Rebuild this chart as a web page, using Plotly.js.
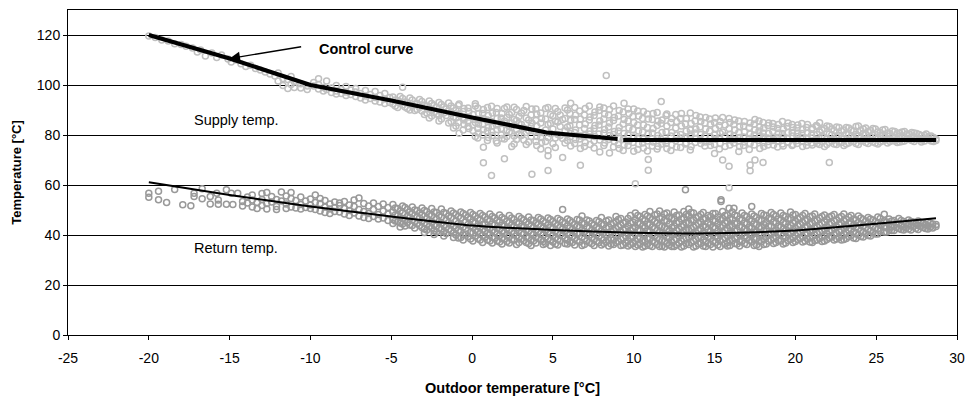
<!DOCTYPE html>
<html>
<head>
<meta charset="utf-8">
<script src="https://cdn.plot.ly/plotly-3.0.1.min.js"></script>
<style>
html,body{margin:0;padding:0;background:#fff;}
#chart{width:972px;height:397px;}
</style>
</head>
<body>
<div id="chart"></div>
<script>
// Supply temperature measurements: [outdoor temp, [supply temps...]]
const supplyPoints = [
[-20.0,[119.6]],[-19.6,[119.0]],[-19.2,[118.0]],[-18.8,[117.6]],[-18.4,[116.5]],[-18.0,[116.2]],
[-17.7,[115.5]],[-17.3,[114.8]],[-17.0,[113.2]],[-16.8,[114.0]],[-16.5,[111.6]],[-16.1,[112.8]],
[-15.8,[111.0]],[-15.5,[112.0]],[-15.1,[110.4]],[-14.9,[109.2]],[-14.6,[110.0]],[-14.3,[108.5]],
[-14.0,[107.4]],[-13.7,[107.9]],[-13.4,[106.6]],[-13.1,[106.0]],[-12.8,[105.2]],[-12.5,[104.4]],
[-12.2,[103.6]],[-12.0,[104.8,101.6]],[-11.7,[102.6,99.8]],[-11.4,[102.2,98.6]],[-11.2,[103.4,100.2]],
[-11.0,[101.4,99.0]],[-10.6,[100.5,98.8]],[-10.2,[99.6,98.2]],
[-9.8,[99.6,101.0]],[-9.5,[100.2,98.4,102.5]],[-9.2,[99.0,97.6]],[-9.0,[101.6,98.2]],[-8.7,[98.8,97.0]],
[-8.4,[99.8,97.6,96.4]],[-8.1,[98.2,96.6]],[-7.8,[99.4,97.2,95.8]],[-7.5,[98.0,96.2]],[-7.2,[97.2,95.4,98.6]],
[-6.9,[96.6,94.8]],[-6.6,[97.8,95.6,94.0]],[-6.3,[96.2,94.6]],[-6.0,[97.4,95.0,93.6]],[-5.7,[95.8,93.2]],
[-5.4,[96.6,94.4,92.6]],[-5.1,[95.0,93.0]],
[-4.9,[95.2,92.4]],[-4.75,[94.0,91.6]],[-4.6,[93.8,91.0]],[-4.45,[95.4,92.8]],[-4.3,[94.6,92.0,99.1]],
[-4.15,[93.2,91.2]],[-4.0,[93.0,90.6]],[-3.85,[94.8,90.0]],[-3.7,[94.0,91.8]],[-3.55,[92.4,89.8]],
[-3.4,[92.6,90.2]],[-3.25,[94.2,91.0]],[-3.1,[93.4,89.6]],[-2.95,[92.0,88.2]],[-2.8,[91.4,88.8]],
[-2.65,[93.6,90.4,86.8]],[-2.5,[92.6,90.0,87.6]],[-2.35,[91.8,89.0]],[-2.2,[91.0,88.4]],[-2.05,[93.0,87.8,85.6]],
[-1.9,[92.2,89.2,86.4]],[-1.75,[91.2,88.8]],[-1.6,[90.4,87.8]],[-1.45,[92.8,89.6,84.8]],[-1.3,[91.6,88.6,85.4]],
[-1.15,[90.8,87.2,82.8]],[-1.0,[89.8,86.8,83.6]],[-0.85,[91.8,88.4,85.0]],[-0.8,[92.4,80.7,88.2]],
[-0.55,[89.4,87.0,82.0]],[-0.5,[90.6,86.0,84.2]],[-0.25,[90.8,85.6,83.4]],[-0.2,[89.4,87.2,82.6]],
[0.05,[88.2,84.0,81.8]],[0.2,[79.4,91.6,85.0,92.5]],[0.35,[90.8,86.2,82.6,78.8]],
[0.4,[88.6,84.4,80.8]],[0.65,[88.6,84.2,80.0]],[0.7,[90.2,86.6,82.2,75.1,68.9]],[0.95,[91.0,86.0,81.6,77.8]],
[1.0,[87.8,83.0,79.0]],[1.2,[91.5,85.4,81.4,63.8]],[1.25,[88.8,83.6,79.8]],
[1.5,[89.0,84.0,77.6]],[1.55,[90.6,86.6,82.2,76.8]],[1.8,[86.8,82.6,80.0]],[1.85,[88.6,84.6,78.6]],
[2.0,[90.6,85.6,78.4,70.5]],[2.15,[91.2,87.0,82.0,79.4]],[2.3,[88.2,83.4,81.2]],[2.45,[89.0,84.8,80.8,75.4]],
[2.6,[91.1,86.2,79.6,76.4]],[2.75,[90.2,85.8,82.2,78.2]],[2.9,[87.4,84.6,80.4]],[3.05,[88.8,84.2,79.8]],
[3.2,[89.8,82.8,78.0]],[3.35,[91.4,86.8,81.0,76.2]],[3.5,[86.0,81.8,77.2]],[3.65,[88.0,83.4,79.4]],
[3.7,[90.4,84.8,64.3]],[3.95,[90.4,85.8,81.2,77.4]],[4.0,[88.4,83.6,79.4,75.8]],[4.25,[88.8,84.8,79.0,74.4]],
[4.3,[86.6,81.0,77.0]],[4.55,[90.6,86.4,82.0,77.4]],[4.7,[91.0,84.2,79.0,73.8,71.7,65.8]],[4.85,[88.2,84.6,80.6]],
[5.0,[87.6,82.4,76.6]],[5.15,[90.6,85.6,78.8,75.0]],[5.3,[89.4,85.2,80.2]],[5.45,[88.0,83.4,79.8]],
[5.6,[86.2,78.6,71.0]],[5.75,[90.8,86.6,81.6,76.8]],[5.9,[90.0,83.2,77.8]],[6.05,[88.6,83.8,79.2]],
[6.1,[92.7,85.8,80.6,75.6]],[6.35,[91.0,86.2,81.0,76.6]],[6.4,[88.0,82.0,78.2]],[6.65,[89.6,84.0,78.4]],
[6.7,[86.4,79.6,67.9,74.6]],[6.95,[88.0,82.6,79.8,75.4]],[7.0,[90.6,84.4,77.0]],[7.25,[91.6,86.0,80.4]],
[7.3,[87.2,81.6,76.2]],[7.55,[87.8,82.6,77.6,74.8]],[7.6,[89.2,83.8,79.4]],[7.85,[89.8,84.0,80.4]],
[7.9,[91.2,85.6,78.0,73.2]],[8.15,[90.8,86.4,80.8,75.8]],[8.2,[88.4,82.2,76.8]],
[8.3,[103.8]],[8.45,[88.0,83.2,78.2]],[8.5,[90.2,84.8,79.8,72.8]],[8.75,[91.6,85.8,80.2,75.2]],
[8.8,[87.0,81.4,77.4]],[9.05,[87.6,81.6,76.2]],[9.1,[89.8,83.0,78.6,74.6]],[9.35,[89.2,84.4,78.2,73.8]],
[9.4,[92.7,86.2,80.6,76.0]],[9.65,[90.4,85.6,80.0,75.8]],[9.7,[88.6,82.8,77.6]],[9.95,[87.4,82.2,77.0]],
[10.0,[90.4,85.0,79.2,73.5]],
[10.1,[60.5]],[10.25,[89.6,84.0,78.6,74.2]],[10.3,[87.6,81.6,76.4]],[10.55,[86.6,81.2,76.8]],
[10.6,[89.4,84.0,78.4,74.8]],[10.85,[88.4,83.0,77.6,73.6]],[10.9,[86.4,80.4,70.2,65.9]],[11.15,[86.2,80.8,75.6]],
[11.2,[88.6,82.6,77.2]],[11.45,[89.0,83.8,78.6,74.4]],[11.5,[85.6,79.8,75.4]],[11.7,[93.4,84.6,78.2]],
[11.75,[86.0,81.0,76.4]],[12.0,[87.8,81.2,76.6]],[12.05,[88.4,83.6,77.8,74.6]],
[12.3,[85.0,79.6,73.8]],[12.35,[86.6,81.0,76.0]],[12.6,[88.2,82.8,77.8]],[12.65,[85.4,80.0,75.2]],
[12.9,[86.6,80.2,75.0]],[12.95,[88.6,83.6,78.8]],[13.2,[84.4,78.8,76.4]],[13.25,[86.6,81.6,76.8]],
[13.5,[88.8,82.0,79.4,74.0]],[13.55,[84.6,80.4,75.4]],[13.8,[85.6,80.8,77.0]],[13.85,[87.8,82.4,78.6]],
[14.1,[87.2,83.2,78.0]],[14.15,[85.4,80.2,76.6]],[14.4,[84.8,79.6,75.6]],[14.45,[87.0,82.4,77.2]],
[14.7,[86.4,81.6,77.4]],[14.75,[84.4,79.2,75.8]],[15.0,[85.0,80.0,76.2,72.6]],[15.05,[86.8,82.6,78.4]],
[15.3,[83.8,79.0,74.4]],[15.35,[85.4,80.6,76.6]],[15.5,[87.0,81.2,70.0]],[15.65,[84.0,79.6,75.4]],
[15.9,[86.6,82.6,78.0,67.5,58.9]],[15.95,[85.0,80.2,76.0]],[16.2,[84.2,79.8,76.8]],[16.25,[86.0,82.0,78.2]],
[16.5,[85.6,81.0,77.6,73.4]],[16.55,[83.4,79.0,75.4]],[16.8,[83.6,79.2,75.8]],[16.85,[85.4,81.2,77.2]],
[17.15,[83.0,78.6,74.2]],[17.2,[84.8,80.4,76.6,65.7,68.0]],[17.45,[84.4,80.0,76.0]],
[17.5,[86.2,82.0,78.4,70.0]],[17.75,[85.6,81.6,77.8]],[17.8,[83.2,79.6,74.6]],[18.0,[85.0,80.8,77.0,69.0]],
[18.05,[82.8,79.2,75.4]],[18.3,[83.8,78.8,76.0]],[18.35,[84.8,80.6,77.4]],[18.6,[84.6,81.4,77.8]],
[18.65,[83.2,78.4,76.0]],[18.9,[82.6,79.0,75.2]],[18.95,[84.2,80.8,77.6]],[19.2,[85.4,80.6,76.4]],
[19.25,[82.4,79.2,75.6]],[19.5,[83.4,78.6,77.2]],[19.55,[84.8,81.0,77.0]],[19.8,[84.2,81.0,75.8]],
[19.85,[83.0,79.6,76.2]],
[20.1,[82.8,79.4,76.6]],[20.15,[84.0,80.8,77.8]],[20.4,[84.6,80.6,77.4]],[20.45,[82.2,79.0,75.4]],
[20.7,[83.0,78.8,75.8]],[20.75,[84.2,80.8,77.2]],[21.0,[82.2,80.0,76.8]],[21.05,[82.8,78.8,76.0]],
[21.3,[83.8,78.4,77.6]],[21.35,[83.4,80.2,76.6]],[21.5,[84.9,81.2,76.2]],[21.65,[82.0,79.6,77.4]],
[21.8,[82.6,79.0,75.4]],[21.95,[83.6,78.6,76.2]],[22.1,[83.4,80.4,69.0,77.0]],[22.25,[82.4,80.0,77.6]],
[22.4,[81.8,78.2,76.4]],[22.55,[83.2,79.2,76.2]],[22.7,[83.0,79.8,77.2]],[22.85,[81.6,78.6,77.0]],
[23.0,[82.0,78.6,75.8]],[23.15,[83.0,80.4,76.4]],[23.3,[82.8,80.2,76.8]],[23.45,[82.0,79.4,77.6]],
[23.6,[81.6,78.8,77.4]],[23.75,[83.4,80.2,76.6]],[23.9,[83.6,79.6,76.2]],[24.05,[81.8,79.0,77.6]],
[24.2,[82.4,80.6,77.8]],[24.35,[82.8,80.2,77.0]],[24.5,[81.4,78.4,76.6]],[24.65,[81.8,79.2,77.8]],
[24.8,[82.6,79.8,77.2]],[24.95,[82.4,79.0,76.8]],[25.1,[81.2,78.6,76.4]],[25.25,[81.0,79.8,77.2]],
[25.4,[82.0,80.0,77.6]],[25.55,[82.2,79.2,78.0]],[25.7,[80.8,78.4,76.8]],[25.85,[80.6,79.6,77.4]],
[26.0,[81.6,79.2,77.8]],[26.15,[81.4,78.8,77.6]],[26.3,[80.6,78.2,77.0]],[26.45,[80.8,79.4,77.2]],
[26.6,[81.2,79.6,77.4]],[26.75,[81.4,79.0,77.6]],[26.9,[80.4,78.6]],[27.05,[80.4,78.2]],
[27.2,[81.0,79.0,77.8]],[27.35,[80.8,79.2,77.4]],[27.5,[80.6,78.4]],[27.65,[80.2,78.6]],
[27.8,[79.8,78.0,77.2]],[28.0,[79.8,77.6]],[28.1,[80.4,78.6]],[28.25,[79.4,78.2]],
[28.4,[79.6,77.6]],[28.55,[79.0,77.4]],[28.7,[78.4,77.8]]
];

// Return temperature measurements: [outdoor temp, [return temps...]]
const returnPoints = [
[-20.0,[56.7,55.1]],[-19.4,[57.5,54.1]],[-18.9,[53.0]],[-18.4,[58.2]],[-17.9,[52.1]],[-17.4,[51.7]],
[-17.2,[56.7,55.4]],[-16.7,[58.5,54.5]],[-16.2,[55.4,52.4]],[-15.8,[56.7]],[-15.7,[54.0,52.3]],
[-15.2,[58.1,52.3]],[-14.9,[56.7]],[-14.8,[52.2]],[-14.5,[56.7]],[-14.2,[53.4,51.6]],[-13.9,[55.2,52.8]],
[-13.6,[54.0,51.2,56.0]],[-13.3,[53.0,50.6]],[-13.0,[56.6,54.2,51.8]],[-12.7,[57.0,52.6,50.4]],
[-12.4,[55.4,53.2]],[-12.1,[54.2,51.4,50.2]],[-11.8,[57.2,53.6]],[-11.5,[55.6,52.4,50.6]],
[-11.2,[57.0,54.6,51.2]],[-10.9,[53.8,50.8]],[-10.6,[55.2,52.2,50.4]],[-10.3,[53.6,51.0]],
[-10.0,[54.4,52.0,50.6]],[-9.7,[56.0,53.0,50.2]],[-9.4,[52.6,49.6,54.6]],[-9.1,[53.8,51.2,49.0]],
[-8.8,[52.4,50.4,48.6]],[-8.5,[53.2,51.0,49.4]],[-8.2,[51.8,49.2,52.8]],[-7.9,[53.4,50.6,48.4]],
[-7.6,[52.0,49.8,47.8]],[-7.3,[54.0,51.4,48.8]],[-7.0,[54.8,50.2,47.6]],[-6.7,[52.6,49.4,47.0]],
[-6.4,[51.6,48.6,46.6]],[-6.1,[52.8,50.2,47.4]],[-5.8,[51.4,48.2,46.4]],[-5.5,[52.4,49.6,46.8]],
[-5.2,[51.0,48.4,45.8]],
[-4.9,[52.2,49.2,46.2,44.6]],[-4.75,[50.8,48.0,45.6]],[-4.6,[50.6,47.8,45.4]],[-4.45,[49.6,47.0,44.8,43.2]],
[-4.3,[51.6,48.8,46.6,44.4]],[-4.15,[51.0,46.2,43.6]],[-4.0,[50.2,47.4,45.0]],[-3.85,[49.2,47.0,44.0]],
[-3.7,[51.2,48.6,46.0,43.8]],[-3.55,[50.0,45.4,42.8]],[-3.4,[49.8,47.2,44.6]],[-3.25,[48.8,46.8,43.8]],
[-3.1,[50.8,48.0,45.6,43.0]],[-2.95,[49.8,44.8,42.4,41.0]],[-2.8,[49.4,46.6,44.2,42.0]],
[-2.65,[48.2,45.8,43.4]],[-2.5,[50.6,47.8,45.2,42.8]],[-2.35,[49.2,44.0,41.6,40.2]],
[-2.2,[49.0,46.4,43.6,41.2]],[-2.05,[47.8,45.4,42.6]],[-1.9,[50.4,47.2,44.8,42.4]],
[-1.75,[49.0,43.8,41.2,39.6]],[-1.6,[48.6,46.0,43.2,40.6]],[-1.45,[47.6,45.0,42.2]],
[-1.3,[49.6,47.0,44.4,41.8]],[-1.15,[48.8,43.6,40.8,39.0]],[-1.0,[48.2,45.6,42.8,40.0]],
[-0.85,[47.4,44.6,41.8,38.8]],[-0.7,[49.2,46.8,44.0,41.4,39.0]],[-0.55,[48.6,43.2,40.0,38.0]],
[-0.4,[48.0,45.2,42.4,40.4]],[-0.25,[47.0,44.2,39.4]],[-0.1,[49.0,46.4,43.6,41.0,38.4]],
[0.05,[48.2,45.2,43.0,40.8,37.6]],[0.2,[47.6,44.8,42.0,39.6]],[0.35,[46.6,43.6,41.4,38.6]],
[0.5,[48.6,46.0,43.2,40.6,38.0]],[0.65,[47.8,44.2,42.2,39.8,37.0]],[0.8,[47.2,44.4,41.6,39.2]],
[0.95,[46.2,43.0,40.6,38.0]],[1.1,[48.4,45.6,42.8,40.2,37.6]],[1.25,[47.4,44.4,41.8,39.0,36.8]],
[1.4,[46.8,44.0,41.2,38.8]],[1.55,[45.8,42.6,40.4,37.6]],[1.7,[48.0,45.2,42.4,39.8,37.2]],
[1.85,[47.0,43.8,41.6,38.6,36.4]],[2.0,[46.4,43.6,41.0,38.4]],[2.15,[45.4,42.6,39.8,37.4]],
[2.3,[47.8,45.0,42.2,39.4,36.8]],[2.45,[46.8,44.0,41.4,38.2]],[2.6,[46.2,43.4,40.6,38.0]],
[2.75,[45.0,42.8,39.6,36.2]],[2.9,[47.4,44.6,41.8,39.0,37.0]],[3.05,[46.6,43.4,40.8,38.4]],
[3.2,[46.0,43.2,40.4,37.8]],[3.35,[45.2,42.0,39.2,37.0]],[3.5,[47.2,44.4,41.6,38.8,36.6]],
[3.65,[46.0,43.6,40.8,37.8,35.8]],[3.8,[45.8,43.0,40.2,37.6]],[3.95,[44.8,42.0,39.0,36.8]],
[4.1,[47.0,44.2,41.4,38.6]],[4.25,[46.4,43.4,40.6,38.0]],[4.4,[45.6,42.8,40.0,37.4,36.2]],
[4.55,[45.0,42.2,39.2,36.6]],[4.7,[46.8,44.0,41.2,38.4]],[4.85,[46.2,43.0,40.4,37.8,35.8]],
[5.0,[45.4,42.6,39.8,37.2]],[5.15,[44.6,41.6,38.8,36.4]],[5.3,[46.6,43.8,41.0,38.2,36.0]],
[5.45,[46.0,43.0,40.2,37.6]],[5.6,[50.2,45.2,42.4,39.6]],[5.75,[44.8,41.8,38.6,36.6]],
[5.9,[46.4,43.6,40.8,38.0,36.4]],[6.05,[45.8,42.8,40.0,37.2]],[6.2,[45.0,42.2,39.4,37.0]],
[6.35,[44.2,41.6,38.6,36.0]],[6.5,[46.2,43.4,40.6,37.8]],[6.65,[46.0,43.2,40.8,37.2]],
[6.8,[47.6,44.8,42.0,39.2,35.8]],[6.95,[44.6,41.4,38.4,36.2]],[7.1,[46.0,43.2,40.4,37.6]],
[7.25,[45.6,42.8,40.0,37.0]],[7.4,[44.6,41.8,39.0,36.6]],[7.55,[44.0,41.2,38.2,35.8]],
[7.7,[45.8,43.0,40.2,37.4]],[7.85,[45.4,42.6,39.6,37.0]],[8.0,[47.0,44.4,41.6,38.8,36.0]],
[8.15,[44.2,41.0,38.0,36.6]],[8.3,[45.6,42.8,40.0,37.2]],[8.45,[46.0,43.2,40.6,37.8,35.6]],
[8.6,[44.4,41.4,38.6,36.4]],[8.75,[44.8,41.8,38.0,36.2]],[8.9,[47.4,45.4,42.6,39.8,37.0]],
[9.05,[46.2,43.4,40.4,37.4]],[9.2,[46.6,44.0,41.2,38.4,35.8]],[9.35,[44.8,42.0,38.8,36.0]],
[9.5,[45.2,42.4,39.6,36.8]],[9.65,[46.6,43.6,40.6,37.6,35.6]],[9.8,[47.8,44.8,41.8,39.0,36.2]],
[9.95,[45.2,42.6,39.4,36.6]],
[10.1,[48.8,46.0,43.2,40.4,37.6,35.4]],[10.25,[47.8,44.8,42.0,38.6,36.0]],[10.4,[47.4,44.6,41.8,39.0,36.4]],
[10.55,[46.4,43.6,40.4,37.8,35.2]],[10.7,[48.2,45.8,43.0,40.2,37.4,35.6]],[10.85,[47.6,44.4,41.6,38.4,36.4]],
[11.0,[49.4,47.0,44.2,41.4,38.6,35.8]],[11.15,[46.2,43.2,40.2,37.4,35.4]],[11.3,[48.0,45.4,42.6,39.8,37.0]],
[11.45,[48.4,44.8,41.8,38.8,36.2]],[11.6,[49.6,46.6,43.8,41.0,38.2,35.4]],[11.75,[47.0,43.4,40.6,37.8,35.6]],
[11.9,[48.4,45.8,43.0,40.2,37.4,35.2]],[12.05,[48.8,45.6,42.4,39.4,36.6]],[12.2,[47.2,44.4,41.6,38.8,36.0]],
[12.35,[46.6,43.0,40.2,37.2,35.4]],[12.5,[49.2,46.4,43.6,40.8,38.0,35.4]],[12.65,[47.8,44.8,41.8,38.4,36.0]],
[12.8,[48.0,45.2,42.4,39.6,36.8]],[12.95,[46.4,43.4,40.6,37.6,35.2]],[13.1,[49.4,46.8,44.0,41.2,38.4,35.6]],
[13.2,[58.1]],[13.25,[48.2,45.0,42.2,38.8,36.6]],[13.4,[50.4,47.6,44.8,42.0,39.2,36.2]],
[13.55,[49.0,46.0,42.6,39.8,37.0]],[13.7,[48.8,46.0,43.2,40.4,37.6,35.2]],[13.85,[47.0,43.8,40.8,38.2,35.6]],
[14.0,[47.4,44.6,41.8,39.0,36.4]],[14.15,[48.2,45.2,42.4,39.2,36.6]],[14.3,[49.0,46.4,43.6,40.8,38.0,35.6]],
[14.45,[46.6,43.2,40.0,37.2,35.4]],[14.6,[47.8,45.0,42.2,39.4,36.6]],[14.75,[47.4,44.2,41.4,38.6,36.2]],
[14.9,[48.6,45.8,43.0,40.2,37.4,35.2]],[15.05,[48.6,45.6,42.8,39.6,37.0]],[15.2,[47.2,44.4,41.6,38.8,36.0]],
[15.35,[46.2,43.2,40.4,37.6,35.4]],[15.4,[54.1,53.4]],[15.5,[49.4,46.6,43.8,41.0,38.2]],
[15.65,[47.8,44.8,41.8,38.8,36.4]],[15.8,[48.0,45.4,42.6,39.8,37.0,35.6]],[15.9,[50.7]],
[15.95,[46.6,43.8,40.8,37.8,35.8]],[16.1,[49.2,46.2,43.4,40.6,37.8]],[16.2,[50.7]],
[16.25,[48.0,44.6,41.6,38.6,36.6]],[16.4,[47.6,44.8,42.0,39.2,36.4]],[16.55,[46.4,43.4,40.2,37.4,35.6]],
[16.7,[48.8,46.0,43.2,40.4,37.6]],[16.85,[47.8,44.8,42.4,39.6,36.6]],[17.0,[47.4,44.6,41.8,39.0,36.2]],
[17.15,[46.2,43.2,40.6,37.8]],[17.3,[51.4,48.4,45.6,42.8,40.0,37.2]],[17.45,[47.6,44.4,41.2,38.4,35.8]],
[17.6,[47.0,44.2,41.4,38.6,36.0]],[17.75,[46.0,43.2,40.6,37.6,35.4]],[17.9,[48.6,45.8,43.0,40.2,37.4]],
[18.05,[48.0,44.2,41.6,38.2,36.2]],[18.2,[47.8,45.0,42.2,39.4,36.4]],[18.35,[46.6,43.6,40.4,37.6]],
[18.5,[49.0,46.4,43.6,40.8,38.0]],[18.65,[48.2,45.2,41.4,38.6,36.6]],[18.8,[47.6,44.8,42.0,39.2,37.0]],
[18.95,[46.4,43.4,40.8,37.8]],[19.1,[48.8,46.0,43.2,40.4,37.6]],[19.25,[47.8,45.0,42.4,39.6,36.4]],
[19.4,[47.4,44.6,41.8,39.0,36.8]],[19.55,[46.4,43.2,40.2,37.8]],[19.7,[49.2,46.6,43.8,41.0,38.2]],
[19.85,[48.0,44.8,41.6,38.8,37.0]],
[20.0,[48.2,45.4,42.6,39.8,37.4]],[20.15,[46.6,43.8,40.8,38.2]],[20.3,[47.0,44.2,41.4,38.6]],
[20.45,[47.8,45.0,42.0,39.2,37.2]],[20.6,[48.6,45.8,43.0,40.2,37.6]],[20.75,[46.2,43.4,40.6,38.4]],
[20.9,[47.4,44.6,41.8,39.0,37.2]],[21.05,[47.6,44.8,42.0,39.4,37.0]],[21.2,[48.4,45.6,42.8,40.0,37.8]],
[21.35,[46.0,43.2,40.6,38.0]],[21.5,[46.8,44.0,41.2,38.6]],[21.65,[47.4,44.6,41.8,39.4,37.4]],
[21.8,[48.0,45.2,42.4,39.6,37.6]],[21.95,[46.2,43.0,40.4,38.2]],[22.1,[47.2,44.4,41.6,38.8]],
[22.25,[47.6,44.8,42.0,39.2]],[22.4,[48.2,45.6,42.8,40.2,38.0]],[22.55,[46.0,43.2,40.6,38.4]],
[22.7,[47.0,44.2,41.4,39.0]],[22.85,[47.4,44.6,41.8,39.8,38.0]],[23.0,[48.4,45.8,43.0,40.4,38.2]],
[23.15,[46.2,43.4,40.8,38.6]],[23.3,[47.2,44.6,42.0,39.4]],[23.45,[47.8,45.0,42.4,39.8]],
[23.6,[46.4,43.8,41.2,38.8]],[23.75,[46.0,43.2,40.6,38.6]],[23.9,[47.6,45.0,42.6,40.0]],
[24.05,[46.8,44.2,41.6,39.4]],[24.2,[46.2,43.6,41.0,39.2]],[24.35,[45.6,43.0,40.6]],
[24.5,[47.0,44.6,42.2,39.8]],[24.65,[46.4,44.0,41.6,39.6]],[24.8,[46.0,43.4,41.0]],
[24.95,[45.4,42.8,40.4]],[25.1,[47.2,44.8,42.4,40.4]],[25.25,[46.6,44.0,41.6]],
[25.5,[48.3,45.6,43.2,41.2]],[25.65,[45.2,43.0,41.2]],[25.8,[46.4,44.2,42.0]],[25.95,[45.6,43.2,41.8]],
[26.1,[45.8,43.6,41.8]],[26.25,[44.8,43.0]],[26.4,[46.6,44.4,42.6]],[26.55,[45.8,43.8,42.2]],
[26.7,[45.4,43.2,42.0]],[26.85,[44.6,42.8]],[27.0,[46.0,44.0,42.4]],[27.15,[45.4,43.6,42.0]],
[27.3,[45.2,43.4]],[27.45,[44.4,42.6]],[27.6,[45.6,43.8,42.2]],[27.75,[45.0,43.4]],
[27.9,[44.8,43.0]],[28.05,[44.2,42.6]],[28.2,[45.2,43.6,42.4]],[28.35,[44.8,43.2]],
[28.5,[44.4,42.8]],[28.7,[44.2,43.4]]
];

// Control curve (supply setpoint), null marks the break
const controlX = [-20, -15, -10, -5, 0, 4.6, 9.0, null, 9.35, 28.7];
const controlY = [120, 110.6, 100, 93.8, 87, 81, 78.4, null, 78, 78];

// Return temperature trend curve
const returnCurveX = [-20, -15, -10, -5, 0, 5, 10, 15, 20, 25, 28.7];
const returnCurveY = [61.1, 56.0, 51.4, 47.4, 43.8, 42.0, 40.9, 40.7, 41.8, 44.5, 46.7];

const xTicks = [-25, -20, -15, -10, -5, 0, 5, 10, 15, 20, 25, 30];
const yTicks = [0, 20, 40, 60, 80, 100, 120];

function expand(groups) {
  const xs = [], ys = [];
  groups.forEach(g => g[1].forEach(v => { xs.push(g[0]); ys.push(v); }));
  return {x: xs, y: ys};
}
const sup = expand(supplyPoints);
const ret = expand(returnPoints);

const FONT = 'Liberation Sans, Arial, Helvetica, sans-serif';

const traces = [
  {x: ret.x, y: ret.y, type: 'scatter', mode: 'markers',
   marker: {symbol: 'circle-open', size: 6, color: '#999999', line: {width: 1.5, color: '#999999'}},
   hoverinfo: 'skip'},
  {x: sup.x, y: sup.y, type: 'scatter', mode: 'markers',
   marker: {symbol: 'circle-open', size: 6, color: '#c0c0c0', line: {width: 1.5, color: '#c0c0c0'}},
   hoverinfo: 'skip'},
  {x: returnCurveX, y: returnCurveY, type: 'scatter', mode: 'lines', line: {color: '#000', width: 2, shape: 'spline', smoothing: 0.6}},
  {x: controlX, y: controlY, type: 'scatter', mode: 'lines', connectgaps: false, line: {color: '#000', width: 4.2}}
];

const layout = {
  width: 972, height: 397,
  margin: {l: 68, r: 15, t: 10, b: 62},
  paper_bgcolor: '#fff', plot_bgcolor: '#fff',
  showlegend: false,
  font: {family: FONT, size: 14, color: '#000'},
  xaxis: {
    range: [-25, 30], tickvals: xTicks, ticktext: xTicks.map(String),
    showgrid: false, zeroline: false, showline: true, linecolor: '#000', linewidth: 1, mirror: true,
    ticks: 'outside', ticklen: 4, tickcolor: '#000', ticklabelstandoff: 6,
    tickfont: {family: FONT, size: 14, color: '#000'},
    title: {text: 'Outdoor temperature [°C]', font: {family: FONT, size: 14.5, color: '#000', weight: 'bold'}, standoff: 18}
  },
  yaxis: {
    range: [0, 130], tickvals: yTicks, ticktext: yTicks.map(String),
    showgrid: true, gridcolor: '#000', gridwidth: 1, zeroline: false,
    showline: true, linecolor: '#000', linewidth: 1, mirror: true,
    ticks: 'outside', ticklen: 4, tickcolor: '#000',
    tickfont: {family: FONT, size: 14, color: '#000'},
    title: {text: 'Temperature [°C]', font: {family: FONT, size: 13, color: '#000', weight: 'bold'}, standoff: 12}
  },
  annotations: [
    {x: -15, y: 110.6, xref: 'x', yref: 'y', text: '', showarrow: true, arrowhead: 2, arrowsize: 1.6, arrowwidth: 1.3,
     arrowcolor: '#000', ax: 73, ay: -12, standoff: 0},
    {x: -9.6, y: 114.5, xref: 'x', yref: 'y', text: '<b>Control curve</b>', showarrow: false, xanchor: 'left', yanchor: 'middle',
     font: {family: FONT, size: 14.5, color: '#000'}},
    {x: -17.3, y: 86.2, xref: 'x', yref: 'y', text: 'Supply temp.', showarrow: false, xanchor: 'left', yanchor: 'middle',
     font: {family: FONT, size: 14.5, color: '#000'}},
    {x: -17.3, y: 35.0, xref: 'x', yref: 'y', text: 'Return temp.', showarrow: false, xanchor: 'left', yanchor: 'middle',
     font: {family: FONT, size: 14.5, color: '#000'}}
  ]
};

Plotly.newPlot('chart', traces, layout, {displayModeBar: false, staticPlot: true});
</script>
</body>
</html>
